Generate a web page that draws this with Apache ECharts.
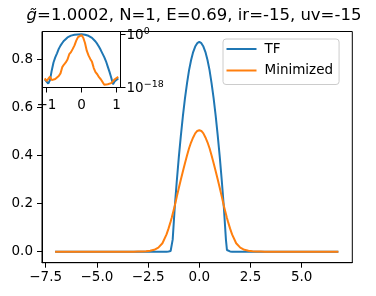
<!DOCTYPE html>
<html>
<head>
<meta charset="utf-8">
<script src="https://cdn.jsdelivr.net/npm/echarts@6/dist/echarts.min.js"></script>
<style>
html, body { margin: 0; padding: 0; background: #fff; }
#chart { width: 376px; height: 296px; }
</style>
</head>
<body>
<div id="chart"></div>
<script>
// main panel
const xs = [-7.04, -6, -5, -4, -3.2, -3.0, -2.8, -2.6, -2.4, -2.2, -2.0, -1.8, -1.6, -1.5, -1.4, -1.35, -1.3,
    -1.2, -1.1, -1.0, -0.9, -0.8, -0.7, -0.6, -0.5, -0.4, -0.3, -0.2, -0.1, 0,
    0.1, 0.2, 0.3, 0.4, 0.5, 0.6, 0.7, 0.8, 0.9, 1.0, 1.1, 1.2,
    1.3, 1.35, 1.4, 1.5, 1.6, 1.8, 2.0, 2.2, 2.4, 2.6, 2.8, 3.0, 3.2, 4, 5, 6, 6.79];
const tf = [0, 0, 0, 0, 0, 0, 0, 0, 0, 0, 0, 0, 0, 0.001, 0.003, 0.007, 0.05,
    0.183, 0.293, 0.393, 0.483, 0.565, 0.638, 0.70, 0.755, 0.797, 0.83, 0.853, 0.867, 0.872,
    0.867, 0.853, 0.83, 0.797, 0.755, 0.70, 0.638, 0.565, 0.483, 0.393, 0.293, 0.183,
    0.05, 0.007, 0.003, 0.001, 0, 0, 0, 0, 0, 0, 0, 0, 0, 0, 0, 0, 0];
const minimized = [0, 0, 0, 0, 0, 0.0005, 0.001, 0.002, 0.004, 0.008, 0.017, 0.035, 0.072, 0.097, 0.125, 0.14, 0.157,
    0.19, 0.228, 0.265, 0.30, 0.335, 0.368, 0.40, 0.43, 0.455, 0.475, 0.492, 0.502, 0.505,
    0.502, 0.492, 0.475, 0.455, 0.43, 0.40, 0.368, 0.335, 0.30, 0.265, 0.228, 0.19,
    0.157, 0.14, 0.125, 0.097, 0.072, 0.035, 0.017, 0.008, 0.004, 0.002, 0.001, 0.0005, 0, 0, 0, 0, 0];

// inset (log scale)
const insetXs = [-1.05, -1.0, -0.95, -0.9, -0.85, -0.8, -0.75, -0.7, -0.65, -0.6, -0.55, -0.5, -0.45, -0.4, -0.35,
    -0.3, -0.25, -0.2, -0.15, -0.1, -0.05, 0, 0.05, 0.1, 0.15, 0.2, 0.25, 0.3, 0.35, 0.4, 0.45, 0.5,
    0.55, 0.6, 0.65, 0.7, 0.75, 0.8, 0.85, 0.9, 0.95, 1.0, 1.05];
const insetTf = [5e-16, 1.6e-16, 1.6e-17, 2.5e-16, 5e-13, 2.5e-10, 1.3e-8, 3.2e-7, 1e-5, 1.3e-4, 1e-3, 6.3e-3,
    0.025, 0.079, 0.178, 0.316, 0.5, 0.66, 0.79, 0.8, 0.86, 0.87, 0.8, 0.63, 0.45, 0.28, 0.14, 0.056, 0.016,
    3.2e-3, 5e-4, 5e-5, 4e-6, 2.5e-7, 1.6e-8, 6.3e-10, 1e-11, 1.6e-13, 1.6e-15, 1e-17, 1e-16, 3.2e-16, 1e-15];
const insetMinimized = [1e-15, 1.3e-16, 6.3e-16, 4e-15, 2.5e-16, 1.3e-16, 6.3e-16, 1.6e-15, 6.3e-15, 5e-14,
    6.3e-12, 5e-11, 2.5e-10, 2.5e-9, 1.6e-7, 7.9e-7, 1e-5, 1.6e-4, 6.3e-3, 0.1, 0.32, 0.5, 0.063, 1e-3,
    2.5e-6, 6.3e-8, 4e-9, 4e-10, 3.2e-12, 1.3e-13, 2.5e-14, 2.5e-15, 5e-16, 6.3e-17, 6.3e-18, 2.5e-18,
    1e-17, 4e-18, 2.5e-17, 1e-16, 5e-16, 1.6e-16, 3.2e-15];

const mainXTicks = [-7.5, -5, -2.5, 0, 2.5, 5];
const mainYTicks = [0, 0.2, 0.4, 0.6, 0.8];
const insetXTicks = [-1, 0, 1];
const insetYTicks = [1e-18, 1];

const FONT = 'DejaVu Sans';
const minus = s => s.replace('-', '\u2212');

function pairs(x, y) {
    return x.map((v, i) => [v, y[i]]);
}

let chart = echarts.init(document.getElementById('chart'));
let option = {
    animation: false,
    textStyle: { fontFamily: FONT },
    graphic: [{
        type: 'text',
        x: 194, y: 16,
        style: {
            text: '{g|g\u0303}=1.0002, N=1, E=0.69, ir=-15, uv=-15',
            textAlign: 'center',
            textVerticalAlign: 'middle',
            font: '16.5px DejaVu Sans',
            fill: '#000',
            rich: { g: { fontStyle: 'italic', fontSize: 16.5, fontFamily: FONT } }
        }
    }],
    legend: {
        data: ['TF', 'Minimized'],
        orient: 'vertical',
        left: 223, top: 39,
        icon: 'rect',
        itemWidth: 30, itemHeight: 2,
        itemGap: 7.5,
        padding: [3, 6, 7, 3.5],
        backgroundColor: 'rgba(255,255,255,0.8)',
        borderColor: '#cccccc', borderWidth: 1, borderRadius: 3,
        textStyle: { fontSize: 13.5, color: '#000', fontFamily: FONT, lineHeight: 14, padding: [0, 0, 0, 3] }
    },
    grid: [
        { left: 42, top: 31.5, right: 23.7, bottom: 33.3, show: true, borderColor: '#000', borderWidth: 1, backgroundColor: '#fff' },
        { left: 42.5, top: 31.5, width: 78, height: 56, show: true, borderColor: '#000', borderWidth: 1, backgroundColor: '#fff', z: 5 }
    ],
    xAxis: [{
        type: 'value', gridIndex: 0, min: -7.68, max: 7.47,
        splitLine: { show: false },
        axisLine: { onZero: false, lineStyle: { color: '#000' } },
        axisTick: { length: 5, lineStyle: { color: '#000' }, customValues: mainXTicks },
        axisLabel: { customValues: mainXTicks, fontSize: 13.5, color: '#000', margin: 8,
            formatter: v => minus(v.toFixed(1)) }
    }, {
        type: 'value', gridIndex: 1, min: -1.114, max: 1.114, z: 6,
        splitLine: { show: false },
        axisLine: { onZero: false, lineStyle: { color: '#000' } },
        axisTick: { length: 5, lineStyle: { color: '#000' }, customValues: insetXTicks },
        axisLabel: { customValues: insetXTicks, fontSize: 13.5, color: '#000', margin: 11,
            formatter: v => minus(String(v)) }
    }],
    yAxis: [{
        type: 'value', gridIndex: 0, min: -0.0457, max: 0.9156,
        splitLine: { show: false },
        axisLine: { onZero: false, lineStyle: { color: '#000' } },
        axisTick: { length: 5, lineStyle: { color: '#000' }, customValues: mainYTicks },
        axisLabel: { customValues: mainYTicks, fontSize: 13.5, color: '#000', margin: 9,
            formatter: v => v.toFixed(1) }
    }, {
        type: 'log', gridIndex: 1, position: 'right', min: 8e-19, max: 8, z: 6,
        splitLine: { show: false },
        axisLine: { onZero: false, lineStyle: { color: '#000' } },
        axisTick: { length: 5, lineStyle: { color: '#000' }, customValues: insetYTicks },
        axisLabel: {
            customValues: insetYTicks, color: '#000', margin: 6,
            formatter: v => v > 0.5 ? '{b|10}{s|0}' : '{b|10}{s|\u221218}',
            rich: {
                b: { fontSize: 13.5, fontFamily: FONT, color: '#000', verticalAlign: 'bottom' },
                s: { fontSize: 9.5, fontFamily: FONT, color: '#000', verticalAlign: 'bottom', padding: [0, 0, 6, 0] }
            }
        }
    }],
    series: [{
        name: 'TF', type: 'line', xAxisIndex: 0, yAxisIndex: 0,
        data: pairs(xs, tf), showSymbol: false, color: '#1f77b4',
        lineStyle: { width: 2 }
    }, {
        name: 'Minimized', type: 'line', xAxisIndex: 0, yAxisIndex: 0,
        data: pairs(xs, minimized), showSymbol: false, color: '#ff7f0e',
        lineStyle: { width: 2 }
    }, {
        name: 'inset TF', type: 'line', xAxisIndex: 1, yAxisIndex: 1, z: 7,
        data: pairs(insetXs, insetTf), showSymbol: false, color: '#1f77b4',
        lineStyle: { width: 2 }
    }, {
        name: 'inset Minimized', type: 'line', xAxisIndex: 1, yAxisIndex: 1, z: 7,
        data: pairs(insetXs, insetMinimized), showSymbol: false, color: '#ff7f0e',
        lineStyle: { width: 2 }
    }]
};
chart.setOption(option);
</script>
</body>
</html>
